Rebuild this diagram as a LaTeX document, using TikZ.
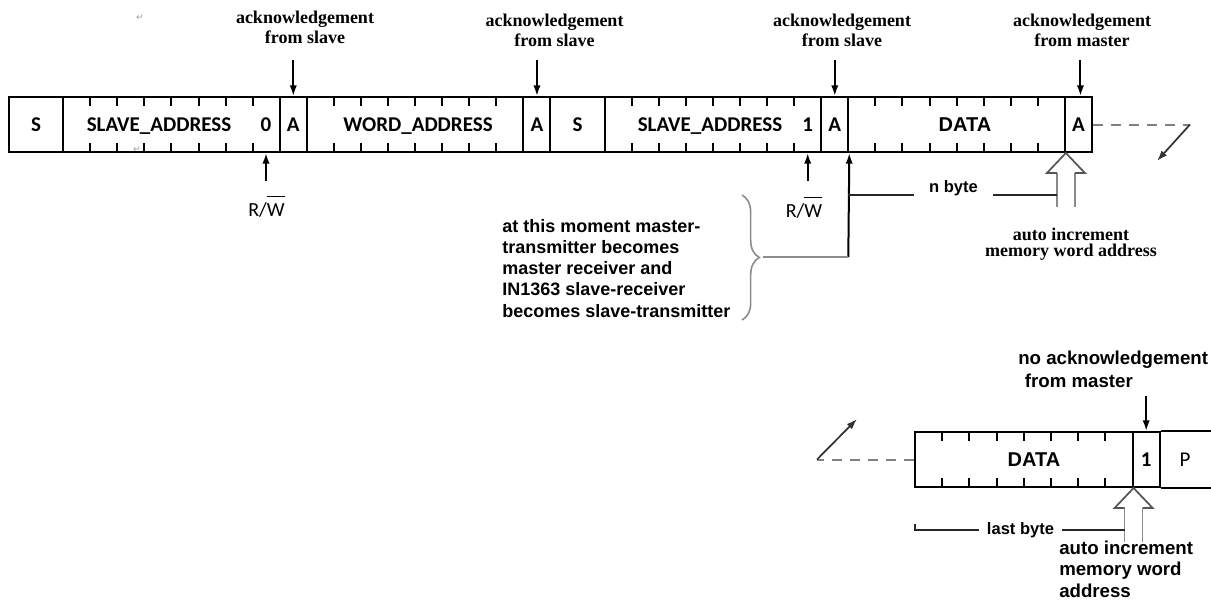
\documentclass[tikz,border=0pt]{standalone}
\usepackage{fontspec}
\setmainfont{Liberation Sans}
\newfontfamily\fcal{Carlito}
\newfontfamily\fari{Liberation Sans}
\newfontfamily\ftim{Liberation Serif}
\newfontfamily\fdjv{DejaVu Sans}
\usetikzlibrary{arrows.meta,decorations.pathreplacing,calc}
\definecolor{dashgray}{HTML}{808080}
\definecolor{bracegray}{HTML}{8C8C8C}
\definecolor{headgray}{HTML}{555555}
\definecolor{shaftgray}{HTML}{8A8A8A}
\definecolor{retgray}{HTML}{A0A0A0}
\newcommand\ovlW[1]{\leavevmode\vbox{\hrule height 1.1pt\kern 4.5pt\hbox{#1}}}
\tikzset{
 field/.style={draw, line width=1.5pt, minimum height=41.25pt, inner sep=0pt, text height=10.5pt, text depth=0pt, font=\fcal\bfseries\fontsize{15.75pt}{18pt}\selectfont},
 ftext/.style={inner sep=0pt, anchor=base, font=\fcal\bfseries\fontsize{15.75pt}{18pt}\selectfont},
 dtext/.style={inner sep=0pt, anchor=base, font=\fari\bfseries\fontsize{15pt}{18pt}\selectfont},
 ptext/.style={inner sep=0pt, anchor=base, font=\fcal\fontsize{15.75pt}{18pt}\selectfont},
 rwtext/.style={inner sep=0pt, anchor=base, font=\fcal\fontsize{15pt}{18pt}\selectfont},
 tickline/.style={line width=1.5pt},
 boxline/.style={line width=1.5pt},
 arr/.style={line width=1.5pt, -{Latex[length=8pt,width=5.5pt]}},
 arrdiag/.style={line width=1.3pt, draw=black!80, -{Latex[length=8pt,width=5.5pt]}},
 dashg/.style={line width=1.5pt, draw=dashgray, dash pattern=on 7.5pt off 6pt},
 grayline/.style={line width=1.3pt, draw=bracegray},
 plainline/.style={line width=1.3pt, draw=black!85},
 bracestyle/.style={line width=1.2pt, draw=bracegray, decorate, decoration={brace, amplitude=13pt}},
 ackl/.style={inner sep=0pt, anchor=base, align=center, font=\ftim\bfseries\fontsize{13.5pt}{15pt}\selectfont},
 autotop/.style={inner sep=0pt, anchor=base, align=center, font=\ftim\bfseries\fontsize{13.5pt}{12pt}\selectfont},
 note/.style={inner sep=0pt, anchor=base west, align=left, font=\fari\bfseries\fontsize{13.5pt}{15.9pt}\selectfont},
 noack/.style={inner sep=0pt, anchor=base west, align=left, font=\fari\bfseries\fontsize{14pt}{17.2pt}\selectfont},
 autobot/.style={inner sep=0pt, anchor=base west, align=left, font=\fari\bfseries\fontsize{14pt}{16pt}\selectfont},
 small/.style={anchor=base, inner ysep=0pt, font=\fari\bfseries\fontsize{12.4pt}{14pt}\selectfont},
 ret/.style={inner sep=0pt, text=retgray, font=\fdjv\fontsize{7pt}{8pt}\selectfont},
 hollow/.pic={
   \draw[line width=1.3pt, draw=shaftgray] (-9,54) -- (-9,20);
   \draw[line width=1.3pt, draw=shaftgray] (9,20) -- (9,54);
   \draw[line width=1.3pt, draw=headgray, line join=miter] (-9,20) -- (-19,20) -- (0,0) -- (19,20) -- (9,20);
 }
}
\begin{document}
\begin{tikzpicture}[x=0.75pt,y=-0.75pt]
\useasboundingbox[fill=white] (0,0) rectangle (1211,600);

% ---------- top frame ----------
\node[field, minimum width=40.61pt]  (S1)  at (36.08,124.5)  {S};
\node[field, minimum width=162.45pt] (SA1) at (171.45,124.5) {};
\node[field, minimum width=20.306pt] (A1)  at (293.29,124.5) {A};
\node[field, minimum width=162.45pt] (WA)  at (415.1,124.5)  {};
\node[field, minimum width=20.306pt] (A2)  at (536.95,124.5) {A};
\node[field, minimum width=40.61pt]  (S2)  at (577.56,124.5) {S};
\node[field, minimum width=162.45pt] (SA2) at (712.95,124.5) {};
\node[field, minimum width=20.306pt] (A3)  at (834.79,124.5) {A};
\node[field, minimum width=162.45pt] (D1)  at (956.6,124.5)  {};
\node[field, minimum width=20.306pt] (A4)  at (1078.46,124.5) {A};

\foreach \s in {2,11,22,31}{
  \foreach \j in {1,...,7}{
    \draw[tickline] ({9+27.075*(\s+\j)},97) -- ++(0,9);
    \draw[tickline] ({9+27.075*(\s+\j)},152) -- ++(0,-9);
  }
}

\node[ftext] (SAt1) at (159,131.5) {SLAVE\_ADDRESS};
\node[ftext] (bit0) at (266,131.5) {0};
\node[ftext] (WAt)  at (418,131.5) {WORD\_ADDRESS};
\node[ftext] (SAt2) at (710,131.5) {SLAVE\_ADDRESS};
\node[ftext] (bit1) at (807.7,131.5) {1};
\node[dtext] (Dt1)  at (965,131.5) {DATA};

\node[ret] (ret1) at (140,18) {↵};
\node[ret] (ret2) at (137,150) {↵};

% ---------- acknowledgement labels ----------
\node[ackl] (L1) at (305,43)   {acknowledgement\\from slave};
\node[ackl] (L2) at (554.5,46) {acknowledgement\\from slave};
\node[ackl] (L3) at (842,46)   {acknowledgement\\from slave};
\node[ackl] (L4) at (1082,46)  {acknowledgement\\from master};

\coordinate (a1) at ([yshift=27pt]A1.north);
\coordinate (a2) at ([yshift=27pt]A2.north);
\coordinate (a3) at ([yshift=27pt]A3.north);
\coordinate (a4) at ([xshift=1.5pt,yshift=27pt]A4.north);
\draw[arr] (a1) -- (A1.north);
\draw[arr] (a2) -- (A2.north);
\draw[arr] (a3) -- (A3.north);
\draw[arr] (a4) -- (a4 |- A4.north);

% ---------- R/W ----------
\coordinate (rw1t) at (bit0 |- SA1.south);
\coordinate (rw1s) at ([yshift=-21pt]rw1t);
\draw[arr] (rw1s) -- (rw1t);
\node[rwtext] (RW1) at (266.5,216) {R/\ovlW{W}};
\coordinate (rw2t) at (bit1 |- SA2.south);
\coordinate (rw2s) at ([yshift=-21pt]rw2t);
\draw[arr] (rw2s) -- (rw2t);
\node[rwtext] (RW2) at (804,217) {R/\ovlW{W}};

% ---------- right dashed continuation ----------
\coordinate (dr) at (1190,124.5);
\coordinate (drt) at (1157,161);
\draw[dashg] (A4.east) -- (dr);
\draw[arrdiag] (dr) -- (drt);

% ---------- mode change note ----------
\coordinate (j1) at (A3.south east);
\coordinate (j2) at (848.3,257);
\coordinate (bt) at (763,257);
\draw[arr] (j2) -- (j1);
\draw[grayline] (bt) -- (j2);
\draw[bracestyle] (742,195) -- (742,320);
\node[note] (NT) at (502,317) {at this moment master-\\transmitter becomes\\master receiver and\\IN1363 slave-receiver\\becomes slave-transmitter};

% ---------- n byte + auto increment ----------
\pic at (D1.south east) {hollow};
\coordinate (nb0) at (848.3,195);
\coordinate (hl1) at ($(D1.south east)+(-9,43)$);
\node[small, inner xsep=11pt] (NB) at (953.5,192) {n byte};
\draw[plainline] (nb0) -- (nb0 -| NB.west);
\draw[plainline] (nb0 -| NB.east) -- (nb0 -| hl1);
\node[autotop] (AI1) at (1071,256) {auto increment\\memory word address};

% ---------- bottom frame ----------
\node[field, minimum width=163.2pt] (D2) at (1023.8,459.5) {};
\node[field, minimum width=20.4pt]  (B1) at (1146.2,459.5) {1};
\draw[boxline] (B1.north east) -- +(51.2,0);
\draw[boxline] (B1.south east) -- +(51.2,0);
\foreach \j in {1,...,7}{
  \draw[tickline] ({915+27.2*\j},432) -- ++(0,9);
  \draw[tickline] ({915+27.2*\j},487) -- ++(0,-9);
}
\node[dtext] (Dt2) at (1034,466.5) {DATA};
\node[ptext] (P)   at (1185,466.5) {P};

\node[noack] (NA) at (1018,387) {no acknowledgement\\\hspace*{5pt}from master};
\coordinate (na) at ([yshift=26.25pt]B1.north);
\draw[arr] (na) -- (B1.north);

\coordinate (dl) at (817,459.5);
\coordinate (dlt) at (857,419);
\draw[dashg] (D2.west) -- (dl);
\draw[arrdiag] (dl) -- (dlt);

\pic at (D2.south east) {hollow};
\coordinate (lb0) at (915,524);
\coordinate (lb1) at (915,530);
\coordinate (hl2) at ($(D2.south east)+(-9,43)$);
\node[small, inner xsep=5.5pt] (LB) at (1020.5,534) {last byte};
\draw[plainline] (lb0) -- (lb1) -- (lb1 -| LB.west);
\draw[plainline] (lb1 -| LB.east) -- (lb1 -| hl2);
\node[autobot] (AI2) at (1059,597) {auto increment\\memory word\\address};
\end{tikzpicture}
\end{document}
